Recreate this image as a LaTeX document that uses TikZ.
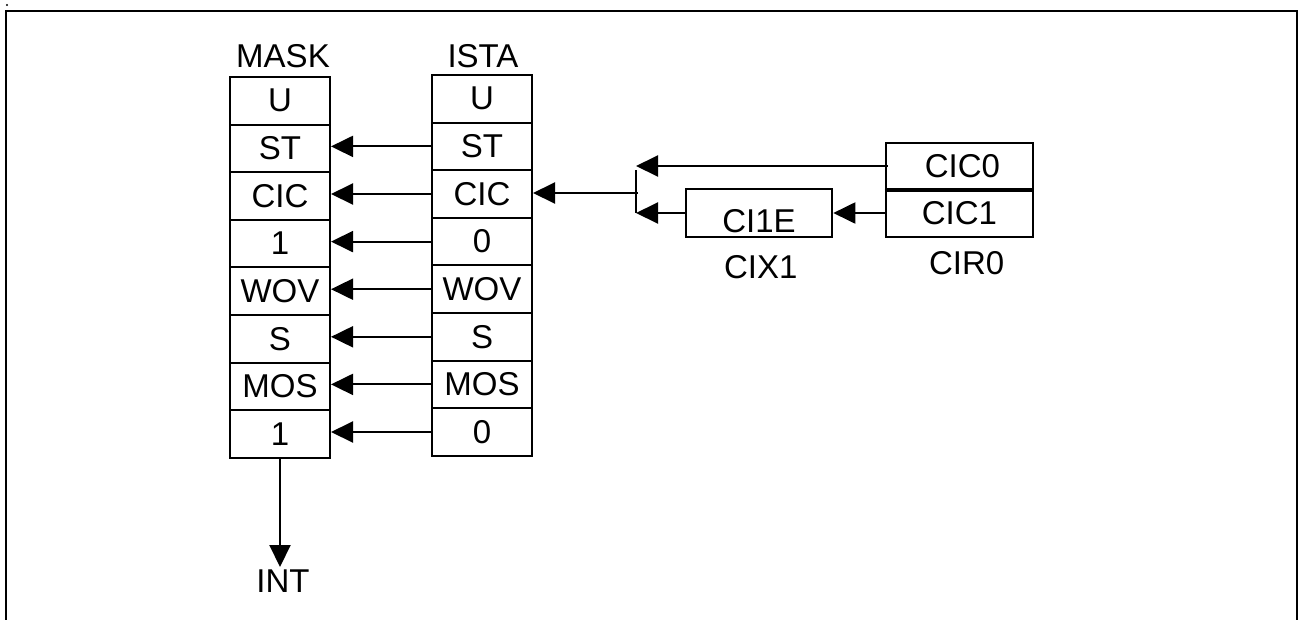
\documentclass[tikz,border=0pt]{standalone}
\usepackage{fontspec}
\setmainfont{Liberation Sans}
\usetikzlibrary{arrows.meta}
\begin{document}
\begin{tikzpicture}[x=1pt,y=-1pt,
  every node/.style={font=\fontsize{33}{38}\selectfont},
  cell/.style={draw, line width=2pt, rectangle, minimum width=100pt, minimum height=47.6pt, inner sep=0pt},
  lbl/.style={inner sep=0pt},
  arr/.style={line width=2pt, -{Triangle[length=22pt,width=21pt]}},
  ln/.style={line width=2pt}]
\useasboundingbox (0,0) rectangle (1298,619);
% frame
\draw[line width=2pt] (6,625) -- (6,11) -- (1296.7,11) -- (1296.7,625);
\fill (7,5) circle (1.1);
% columns
\foreach \t [count=\i] in {U,ST,CIC,1,WOV,S,MOS,1}
  \node[cell] (m\i) at (280,{77+47.6*(\i-0.5)}) {\t};
\foreach \t [count=\i] in {U,ST,CIC,0,WOV,S,MOS,0}
  \node[cell] (s\i) at (482,{75+47.6*(\i-0.5)}) {\t};
\node[lbl] (maskl) at (283,56) {MASK};
\node[lbl] (istal) at (483,56) {ISTA};
\foreach \i in {2,...,8}
  \draw[arr] (s\i.west) -- (s\i.west -| m\i.east);
% INT
\node[anchor=north, inner sep=3pt] (int) at (283,567) {INT};
\draw[arr] (m8.south) -- (m8.south |- int.north);
% CIR0
\node[cell, minimum width=147.6pt, minimum height=47pt] (c0) at (959.5,166) {\hspace{6pt}CIC0};
\node[cell, minimum width=147.6pt, minimum height=47.4pt] (c1) at (959.5,213) {CIC1};
\draw[line width=3pt] (c0.south west) -- (c0.south east);
\node[lbl] (cir) at (966.7,263.3) {CIR0};
% CIX1
\node[cell, minimum width=146.6pt, minimum height=47.7pt] (ci) at (759,213) {\raisebox{-19.4pt}[0pt][0pt]{CI1E}};
\node[lbl] (cix) at (760.7,266.7) {CIX1};
% junction
\coordinate (jt) at (636,167);
\coordinate (jtop) at (636,170);
\coordinate (jb) at (636,213);
\coordinate (jm) at (638,193);
\draw[arr] ([xshift=3pt]c0.west) -- (c0.west -| jt);
\draw[arr] (ci.west) -- (ci.west -| jt);
\draw[arr] (c1.west) -- (c1.west -| ci.east);
\draw[ln] (jtop) -- (jb);
\draw[arr] (jm) -- (jm -| s3.east);
\end{tikzpicture}
\end{document}
